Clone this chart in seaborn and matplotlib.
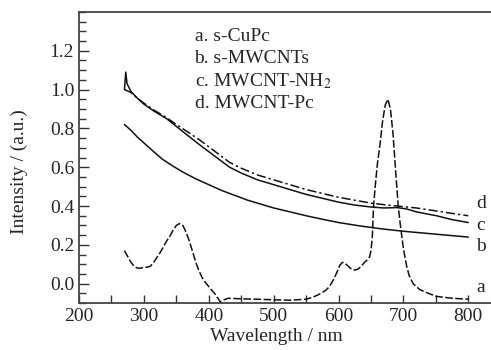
import matplotlib
matplotlib.use("Agg")
import matplotlib.pyplot as plt
import seaborn as sns
import pandas as pd
from matplotlib.ticker import MultipleLocator

# ===============================
# Data (nm, a.u.)
# ===============================
wl_a = [270, 275, 280, 285, 290, 295, 300, 305, 310, 315, 320, 325, 330, 335,
        340, 345, 350, 355, 360, 365, 370, 375, 380, 385, 390, 395, 400, 405,
        410, 415, 418, 422, 430, 450, 475, 500, 525, 550, 560, 570, 580, 586,
        592, 597, 602, 606, 610, 615, 620, 625, 630, 635, 640, 645, 648, 650,
        652, 654, 657, 660, 664, 668, 672, 676, 680, 684, 688, 692, 695, 700,
        705, 709, 715, 720, 725, 735, 750, 775, 800]
int_a = [0.17, 0.14, 0.11, 0.09, 0.08, 0.08, 0.085, 0.085, 0.09, 0.11, 0.135,
         0.16, 0.19, 0.22, 0.245, 0.275, 0.30, 0.31, 0.30, 0.265, 0.22, 0.165,
         0.11, 0.065, 0.03, 0.005, -0.015, -0.035, -0.055, -0.08, -0.095,
         -0.085, -0.075, -0.078, -0.08, -0.083, -0.085, -0.08, -0.07, -0.055,
         -0.035, -0.015, 0.02, 0.055, 0.095, 0.11, 0.105, 0.09, 0.075, 0.07,
         0.075, 0.09, 0.11, 0.125, 0.14, 0.17, 0.24, 0.40, 0.52, 0.62, 0.72,
         0.84, 0.92, 0.95, 0.90, 0.77, 0.58, 0.40, 0.31, 0.18, 0.09, 0.04,
         0.0, -0.015, -0.03, -0.045, -0.065, -0.075, -0.08]

wl_b = [270, 280, 290, 300, 315, 329, 345, 360, 380, 400, 420, 440, 460, 480,
        500, 525, 550, 575, 600, 632, 665, 700, 750, 800]
int_b = [0.82, 0.79, 0.755, 0.725, 0.68, 0.64, 0.605, 0.575, 0.54, 0.51, 0.48,
         0.455, 0.43, 0.41, 0.39, 0.37, 0.35, 0.332, 0.315, 0.298, 0.283,
         0.27, 0.255, 0.24]

wl_c = [270, 272, 274, 280, 290, 300, 315, 335, 350, 365, 386, 410, 432, 450,
        475, 500, 525, 550, 575, 600, 625, 650, 670, 690, 705, 720, 735, 751,
        775, 800]
int_c = [1.00, 1.09, 1.03, 0.99, 0.955, 0.925, 0.89, 0.85, 0.81, 0.77, 0.715,
         0.655, 0.60, 0.57, 0.535, 0.51, 0.485, 0.46, 0.44, 0.42, 0.405,
         0.395, 0.39, 0.392, 0.385, 0.37, 0.36, 0.35, 0.33, 0.315]

wl_d = [270, 280, 290, 300, 315, 335, 350, 366, 386, 410, 432, 450, 475, 500,
        525, 550, 575, 600, 625, 650, 675, 690, 720, 750, 775, 800]
int_d = [1.00, 0.985, 0.955, 0.93, 0.895, 0.855, 0.82, 0.785, 0.74, 0.68,
         0.625, 0.595, 0.56, 0.535, 0.51, 0.485, 0.465, 0.445, 0.43, 0.415,
         0.405, 0.40, 0.39, 0.375, 0.362, 0.35]

legend_lines = ["a. s-CuPc", "b. s-MWCNTs", "c. MWCNT-NH$_2$", "d. MWCNT-Pc"]
end_labels = ["a", "b", "c", "d"]
end_label_y = [-0.02, 0.19, 0.30, 0.415]

# ===============================
# Style
# ===============================
sns.set_style("ticks")
plt.rcParams["font.family"] = ["Liberation Serif", "DejaVu Serif"]
plt.rcParams["mathtext.fontset"] = "stix"

fig = plt.figure(figsize=(4.91, 3.5), dpi=100)
ax = fig.add_axes([0.161, 0.134, 0.839, 0.832])

series = [
    (wl_a, int_a, (0, (5, 1.6))),
    (wl_b, int_b, "-"),
    (wl_c, int_c, "-"),
    (wl_d, int_d, (0, (6, 2, 1.5, 2))),
]
for wl, val, ls in series:
    df = pd.DataFrame({"wl": wl, "val": val})
    sns.lineplot(data=df, x="wl", y="val", ax=ax, color="#111111",
                 linewidth=1.1, linestyle=ls, sort=False)

ax.set_xlim(200, 835)
ax.set_ylim(-0.1, 1.4)
ax.xaxis.set_major_locator(MultipleLocator(100))
ax.xaxis.set_minor_locator(MultipleLocator(50))
ax.set_yticks([0.0, 0.2, 0.4, 0.6, 0.8, 1.0, 1.2])
ax.yaxis.set_minor_locator(MultipleLocator(0.05))

ax.tick_params(axis="both", which="both", direction="in", labelsize=14,
               color="#333333", width=1.0)
ax.tick_params(axis="x", which="both", length=6)
ax.tick_params(axis="y", which="major", length=7)
ax.tick_params(axis="y", which="minor", length=5)

for side in ["left", "top", "bottom"]:
    ax.spines[side].set_color("#444444")
    ax.spines[side].set_linewidth(1.3)
ax.spines["right"].set_visible(False)

ax.set_xlabel("Wavelength / nm", fontsize=14)
ax.xaxis.set_label_coords(0.478, -0.085)
ax.set_ylabel("Intensity / (a.u.)", fontsize=14)
ax.yaxis.set_label_coords(-0.125, 0.45)

# legend-like text block
for i, txt in enumerate(legend_lines):
    ax.text(378, 1.274 - i * 0.115, txt, fontsize=14, va="center", ha="left")

# curve end labels
for lab, yy in zip(end_labels, end_label_y):
    ax.text(812, yy, lab, fontsize=14, va="center", ha="left")

plt.savefig("out.png", dpi=100)
plt.close()
